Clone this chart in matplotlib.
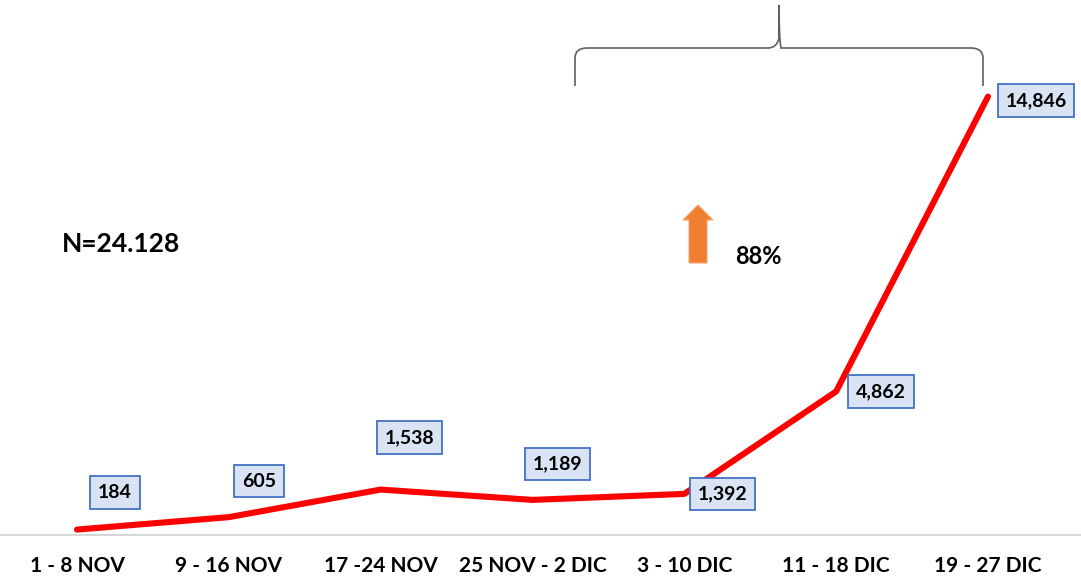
import numpy as np
import matplotlib
matplotlib.use('Agg')
import matplotlib.pyplot as plt
from matplotlib.path import Path
from matplotlib.patches import PathPatch, Polygon
from matplotlib.transforms import Affine2D

plt.rcParams['font.family'] = ['Lato', 'DejaVu Sans']

# data
periods = ['1 - 8 NOV', '9 - 16 NOV', '17 -24 NOV', '25 NOV - 2 DIC',
           '3 - 10 DIC', '11 - 18 DIC', '19 - 27 DIC']
cases = [184, 605, 1538, 1189, 1392, 4862, 14846]
label_texts = ['184', '605', '1,538', '1,189', '1,392', '4,862', '14,846']
# label offsets in pixels (dx, dy) from the point
label_offsets = [(38, 37), (30, 36), (29, 52), (25, 36), (38, 0), (45, 0), (48, -4)]

W, H = 1081, 580
fig = plt.figure(figsize=(W / 100, H / 100), dpi=100)

# axes: bottom at pixel row 535, spanning full width
ax = fig.add_axes([0, (H - 535) / H, 1, 535 / H])
x = np.arange(len(periods))
px_per_cat = 151.83
ax.set_xlim(-77 / px_per_cat, (W - 77) / px_per_cat)
ax.set_ylim(0, 535 / 0.02953)

ax.plot(x, cases, color='#ff0000', lw=4.4, solid_capstyle='round',
        solid_joinstyle='round', zorder=3)

for xi, v, t, (dx, dy) in zip(x, cases, label_texts, label_offsets):
    ax.annotate(t, (xi, v), xytext=(dx, dy), textcoords='offset pixels',
                ha='center', va='center', fontsize=14, fontweight='bold',
                bbox=dict(boxstyle='square,pad=0.4', fc='#dae3f3',
                          ec='#4472c4', lw=1.3), zorder=4)

for s in ['top', 'left', 'right']:
    ax.spines[s].set_visible(False)
ax.spines['bottom'].set_color('#d0d0d0')
ax.spines['bottom'].set_linewidth(1.2)
ax.set_yticks([])
ax.set_xticks(x)
ax.set_xticklabels(periods, fontsize=15, fontweight='bold')
ax.tick_params(axis='x', length=0, pad=15)

# decorations in pixel coordinates (origin top-left)
pix = Affine2D().scale(1, -1).translate(0, H) + Affine2D().scale(1 / W, 1 / H) + fig.transFigure

# brace
verts = [(575, 86), (575, 58), (575, 48), (587, 48), (768, 48), (777, 48), (779, 38),
         (779, 5), (779, 38), (781, 48), (790, 48), (971, 48), (983, 48), (983, 58), (983, 86)]
codes = [Path.MOVETO, Path.LINETO, Path.CURVE3, Path.CURVE3, Path.LINETO, Path.CURVE3,
         Path.CURVE3, Path.LINETO, Path.CURVE3, Path.CURVE3, Path.CURVE3, Path.LINETO,
         Path.CURVE3, Path.CURVE3, Path.LINETO]
fig.add_artist(PathPatch(Path(verts, codes), fc='none', ec='#606060', lw=1.2,
                         transform=pix))

# orange arrow
arrow = [(689, 263), (689, 220), (683, 220), (698, 205), (713, 220), (707, 220), (707, 263)]
fig.add_artist(Polygon(arrow, closed=True, fc='#f07f32', ec='#f5a46a', lw=0.8,
                       transform=pix))

fig.text(735 / W, 1 - 257 / H, '88%', fontsize=17, fontweight='bold',
         ha='left', va='center')
fig.text(62 / W, 1 - 244 / H, 'N=24.128', fontsize=19, fontweight='bold',
         ha='left', va='center')

fig.savefig('out.png', dpi=100)
